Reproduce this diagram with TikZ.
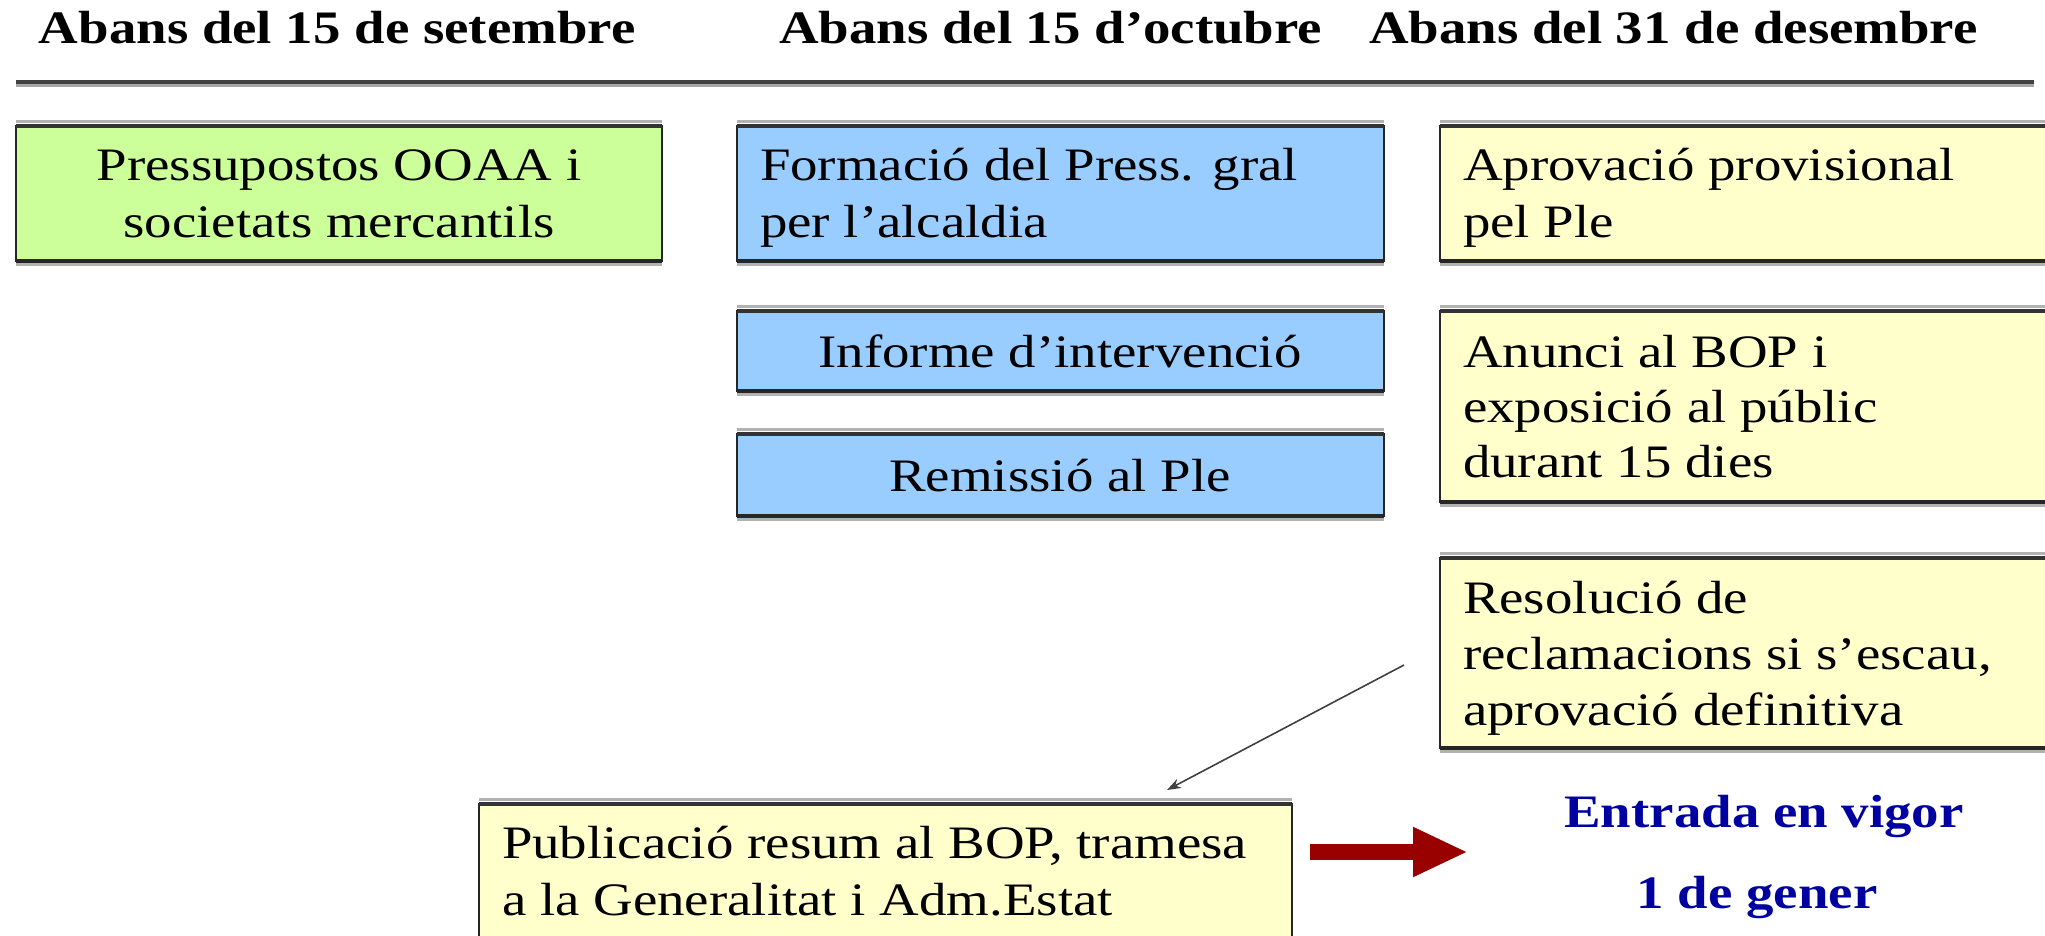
\documentclass[tikz,border=0pt]{standalone}
\usepackage{fontspec}
\setmainfont{Liberation Serif}[FakeStretch=1.18]
\usetikzlibrary{arrows.meta,calc}
\definecolor{gfill}{HTML}{CCFF99}
\definecolor{bfill}{HTML}{99CCFF}
\definecolor{yfill}{HTML}{FFFFCC}
\definecolor{arrowred}{HTML}{990000}
\definecolor{navytxt}{HTML}{0000A0}
\definecolor{rulegray}{HTML}{404040}
\newcommand\txtsize{\fontsize{23.25pt}{28pt}\selectfont}
\newcommand\boxedges[1]{%
  \draw[line width=1.5pt,gray!60] ([yshift=2.2pt]#1.north west) -- ([yshift=2.2pt]#1.north east);
  \draw[line width=1.6pt,black!80] (#1.north west) -- (#1.north east);
  \draw[line width=2pt,black!85] (#1.south west) -- (#1.south east);
  \draw[line width=1.2pt,gray!60] ([yshift=-1.8pt]#1.south west) -- ([yshift=-1.8pt]#1.south east);}
\tikzset{
  boxst/.style={draw=black!85, line width=1pt, anchor=north west, outer sep=0pt, inner sep=0pt},
  txt/.style={inner sep=0pt, outer sep=0pt, font=\txtsize},
  head/.style={inner sep=0pt, outer sep=0pt, font=\txtsize\bfseries, anchor=base west},
  bluetxt/.style={inner sep=0pt, outer sep=0pt, font=\txtsize\bfseries, text=navytxt, anchor=base},
  redarrow/.style={line width=8pt, arrowred, -{Triangle[length=27.5pt,width=23pt]}},
  thinarrow/.style={line width=0.8pt, black!75, -{Stealth[length=7pt,width=5pt]}}
}
\begin{document}
\begin{tikzpicture}[x=0.5pt,y=-0.5pt]
\useasboundingbox (0,0) rectangle (2045,936);
\clip (0,0) rectangle (2045,936);

% headers
\node[head] (h1) at (39,44) {Abans del 15 de setembre};
\node[head] (h2) at (779,44) {Abans del 15 d’octubre};
\node[head] (h3) at (1369,44) {Abans del 31 de desembre};

% rule
\draw[line width=2pt, rulegray] (16,82) -- (2034,82);
\draw[line width=1.5pt, gray!70] (16,85.5) -- (2034,85.5);

% boxes
\node[boxst, fill=gfill, minimum width=323pt, minimum height=67.5pt] (b1) at (16,126) {};
\node[boxst, fill=bfill, minimum width=323.5pt, minimum height=67.5pt] (b2) at (737,126) {};
\node[boxst, fill=yfill, minimum width=310pt, minimum height=67.5pt] (b3) at (1440,126) {};
\node[boxst, fill=bfill, minimum width=323.5pt, minimum height=40pt] (b4) at (737,311) {};
\node[boxst, fill=yfill, minimum width=310pt, minimum height=95.5pt] (b5) at (1440,311) {};
\node[boxst, fill=bfill, minimum width=323.5pt, minimum height=41pt] (b6) at (737,434) {};
\node[boxst, fill=yfill, minimum width=310pt, minimum height=95pt] (b7) at (1440,558) {};
\node[boxst, fill=yfill, minimum width=406.5pt, minimum height=75pt] (b8) at (479,804) {};
\boxedges{b1}\boxedges{b2}\boxedges{b3}\boxedges{b4}
\boxedges{b5}\boxedges{b6}\boxedges{b7}\boxedges{b8}

% texts
\node[txt, anchor=base] (t1a) at (339,181) {Pressupostos OOAA i};
\node[txt, anchor=base] (t1b) at (339,238) {societats mercantils};
\node[txt, anchor=base west] (t2a) at (760,181) {Formació del Press. gral};
\node[txt, anchor=base west] (t2b) at (760,238) {per l’alcaldia};
\node[txt, anchor=base west] (t3a) at (1463,181) {Aprovació provisional};
\node[txt, anchor=base west] (t3b) at (1463,238) {pel Ple};
\node[txt, anchor=base] (t4) at (1060,367) {Informe d’intervenció};
\node[txt, anchor=base west] (t5a) at (1463,367) {Anunci al BOP i};
\node[txt, anchor=base west] (t5b) at (1463,422) {exposició al públic};
\node[txt, anchor=base west] (t5c) at (1463,477) {durant 15 dies};
\node[txt, anchor=base] (t6) at (1060,491) {Remissió al Ple};
\node[txt, anchor=base west] (t7a) at (1463,613) {Resolució de};
\node[txt, anchor=base west] (t7b) at (1463,669) {reclamacions si s’escau,};
\node[txt, anchor=base west] (t7c) at (1463,725) {aprovació definitiva};
\node[txt, anchor=base west] (t8a) at (502,858) {Publicació resum al BOP, tramesa};
\node[txt, anchor=base west] (t8b) at (502,915) {a la Generalitat i Adm.Estat};
\node[bluetxt] (e1) at (1764,827) {Entrada en vigor};
\node[bluetxt] (e2) at (1757,908) {1 de gener};

% connectors
\coordinate (c1) at (1404,665);
\coordinate (c2) at (1167,790);
\draw[thinarrow] (c1) -- (c2);
\coordinate (r1) at (1310,852);
\coordinate (r2) at (1468,852);
\draw[redarrow] (r1) -- (r2);
\end{tikzpicture}
\end{document}
